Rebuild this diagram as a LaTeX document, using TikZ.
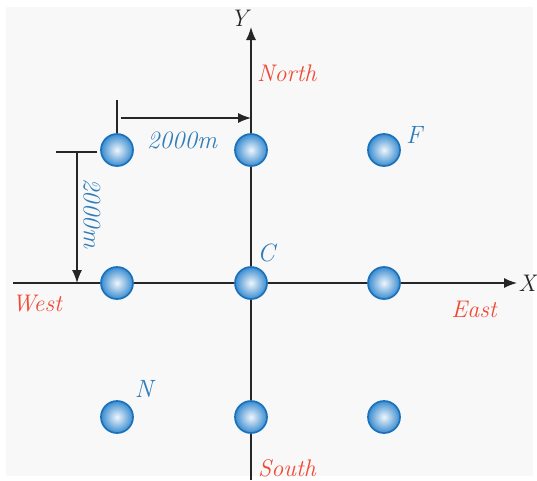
\documentclass[tikz,border=0pt]{standalone}
\usetikzlibrary{arrows.meta}
\definecolor{panel}{HTML}{F8F8F8}
\definecolor{axiscol}{HTML}{262626}
\definecolor{ballblue}{HTML}{3A8CD0}
\definecolor{balledge}{HTML}{1A72BC}
\definecolor{dirred}{HTML}{F04A36}
\definecolor{lblblue}{HTML}{2F7DBA}
\tikzset{
  ball/.style={circle, minimum size=32pt, inner sep=0pt, draw=balledge, line width=1.7pt,
    inner color=white!92!ballblue, outer color=ballblue},
  axis/.style={draw=axiscol, line width=1.4pt},
  tip/.style={-{Latex[length=13pt,width=10pt]}},
  dirlabel/.style={text=dirred, font=\fontsize{24}{28}\selectfont\itshape, inner sep=0pt},
  ptlabel/.style={text=lblblue, font=\fontsize{25}{28}\selectfont\itshape, inner sep=0pt},
  axlabel/.style={text=axiscol, font=\fontsize{24}{28}\selectfont\itshape, inner sep=0pt}
}
\begin{document}
\begin{tikzpicture}[x=1pt,y=-1pt]
\useasboundingbox (0,0) rectangle (537,480);
\fill[white] (0,0) rectangle (537,480);
\fill[panel] (6,7) rectangle (533,476);
% axis end points
\coordinate (ytop) at (251,27);
\coordinate (ybot) at (251,480);
\coordinate (xleft) at (13,283);
\coordinate (xright) at (517,283);
\draw[axis,tip] (ybot) -- (ytop);
\draw[axis,tip] (xleft) -- (xright);
% balls
\node[ball] (nw) at (117,150) {};
\node[ball] (n)  at (251,150) {};
\node[ball] (ne) at (384,150) {};
\node[ball] (w)  at (117,283) {};
\node[ball] (c)  at (251,283) {};
\node[ball] (e)  at (384,283) {};
\node[ball] (sw) at (117,417) {};
\node[ball] (s)  at (251,417) {};
\node[ball] (se) at (384,417) {};
% axis labels
\node[axlabel] (ylbl) at (239,18) {Y};
\node[axlabel, anchor=east] (xlbl) at (536,283) {X};
\node[dirlabel, anchor=west] (north) at (257,73) {North};
\node[dirlabel, anchor=west] (south) at (258,468) {South};
\node[dirlabel] (west) at (37,304) {West};
\node[dirlabel] (east) at (474,309) {East};
% point labels
\node[ptlabel] (clbl) at (266,253) {C};
\node[ptlabel] (flbl) at (414,135) {F};
\node[ptlabel] (nlbl) at (144,389) {N};
% horizontal dimension
\coordinate (t1) at (117,100);
\draw[axis] (t1) -- (nw.north);
\coordinate (h1) at (121,118);
\draw[axis,tip] (h1) -- (h1 -| n);
\node[ptlabel] (d1) at (182,140) {2000m};
% vertical dimension
\coordinate (t2a) at (56,152);
\coordinate (t2b) at (97,152);
\draw[axis] (t2a) -- (t2b);
\coordinate (v1) at (77,152);
\draw[axis,tip] (v1) -- (v1 |- w);
\node[ptlabel, rotate=-90] (d2) at (92,213) {2000m};
\end{tikzpicture}
\end{document}
